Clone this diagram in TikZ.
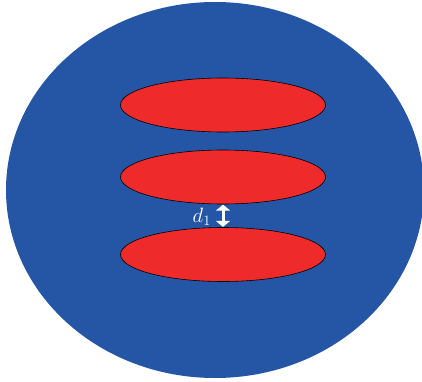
\documentclass[tikz,border=0pt]{standalone}
\usetikzlibrary{shapes.geometric,arrows.meta}
\definecolor{bigblue}{RGB}{37,86,166}
\definecolor{redfill}{RGB}{238,42,42}
\tikzset{
  redell/.style={ellipse, draw=black, line width=0.6pt, fill=redfill, minimum width=205pt, minimum height=54pt, inner sep=0pt},
  gaparrow/.style={white, line width=3pt, {Triangle[width=14pt,length=6pt]}-{Triangle[width=14pt,length=6pt]}, shorten <=0.3pt, shorten >=0.3pt}
}
\begin{document}
\begin{tikzpicture}[x=1pt,y=1pt]
\useasboundingbox (0,0) rectangle (422,381);
\node[ellipse, fill=bigblue, minimum width=418pt, minimum height=376pt, inner sep=0pt] (outer) at (215,191) {};
\node[redell] (e1) at (223,276) {};
\node[redell] (e2) at (223,204) {};
\node[redell] (e3) at (223,126.5) {};
\draw[gaparrow] (e2.south) -- (e3.north);
\node[white, font=\fontsize{20}{24}\selectfont, anchor=east, inner sep=0pt] (lab) at (211,164) {$d_1$};
\end{tikzpicture}
\end{document}
